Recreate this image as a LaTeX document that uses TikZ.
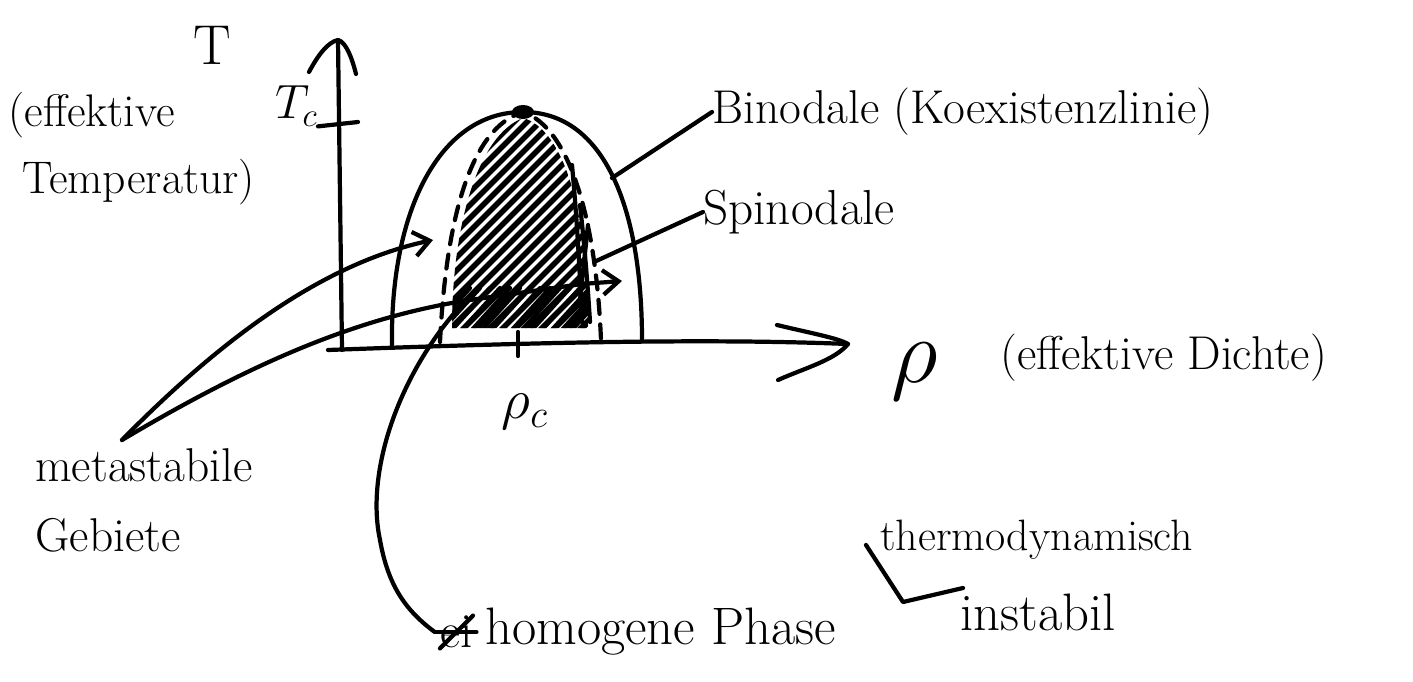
\documentclass[tikz,border=0pt]{standalone}
\usetikzlibrary{arrows.meta}
\begin{document}
\begin{tikzpicture}[x=0.02cm,y=-0.02cm,
  pen/.style={line width=2.4pt,line cap=round,line join=round},
  spin/.style={pen,dash pattern=on 8pt off 6pt},
  hatch/.style={line width=3.2pt,line cap=round},
  lbl/.style={inner sep=0pt,font=\fontsize{24}{28}\selectfont},
  arr/.style={pen,-{Straight Barb[length=9pt,width=14pt,line width=2.4pt]}}]
\useasboundingbox (0,0) rectangle (1413,682);

% axes
\coordinate (o) at (328,350);
\coordinate (ytop) at (338,40);
\coordinate (xend) at (848,344);
\draw[pen] (o) .. controls (520,343) and (700,338) .. (xend);
\draw[pen] (342,350) -- (ytop);
\draw[pen] (309,72) .. controls (318,55) and (328,42) .. (ytop) .. controls (346,42) and (352,58) .. (356,74);
\draw[pen] (777,325) .. controls (810,333) and (838,338) .. (xend) .. controls (835,360) and (805,368) .. (778,380);

% Tc tick
\node[lbl,anchor=east] (tc) at (318,106) {\scalebox{1.1}{$T_c$}};
\draw[pen] (tc.south east) -- (358,122);
% rho_c tick
\draw[pen] (518,332) -- (518,356);

% binodal
\coordinate (peak) at (523,112);
\draw[pen] (392,345) .. controls (390,210) and (440,112) .. (peak) .. controls (605,112) and (642,210) .. (642,340);
% spinodal dashed
\draw[spin] (440,342) .. controls (446,220) and (470,128) .. (peak) .. controls (570,128) and (596,220) .. (601,340);

% hatching
\begin{scope}
\clip (452,328) .. controls (452,225) and (478,135) .. (523,118) .. controls (560,128) and (588,200) .. (588,328) -- cycle;
\foreach \i in {-20,...,28}{
  \draw[hatch] ({330+\i*13},345) -- ({330+\i*13+240},105);
}
\foreach \i in {0,...,16}{
  \draw[line width=2.4pt,line cap=round] ({430+\i*10},332) -- ({430+\i*10+40},288);
}
\end{scope}
\draw[pen] (572,165) .. controls (578,230) and (580,280) .. (582,322);
\draw[pen] (580,205) .. controls (585,250) and (588,290) .. (590,322);
\draw[pen] (588,225) -- (580,300);
\fill (peak) ellipse [x radius=11, y radius=7];

% labels
\node[lbl,font=\fontsize{32}{36}\selectfont] (T) at (212,45) {T};
\node[lbl,align=left,anchor=north west,font=\fontsize{26}{38}\selectfont] (efftemp) at (8,92) {(effektive\\ \ Temperatur)};
\node[lbl,anchor=west,font=\fontsize{27}{31}\selectfont] (binlbl) at (712,112) {Binodale (Koexistenzlinie)};
\node[lbl,anchor=west,font=\fontsize{28}{32}\selectfont] (spinlbl) at (703,212) {Spinodale};
\node[lbl] (rho) at (915,372) {\scalebox{2.1}{$\rho$}};
\node[lbl,anchor=west,font=\fontsize{27}{31}\selectfont] (effd) at (1000,358) {(effektive Dichte)};
\node[lbl] (rhoc) at (525,412) {\scalebox{1.3}{$\rho_c$}};
\node[lbl,align=left,anchor=north west,font=\fontsize{27}{40}\selectfont] (meta) at (35,448) {metastabile\\Gebiete};
\node[lbl,anchor=west,font=\fontsize{28}{32}\selectfont] (ei) at (440,632) {ei};
\draw[pen] (ei.south west) -- (ei.north east);
\draw[pen] ([xshift=-2pt]ei.west) -- ([xshift=2pt]ei.east);
\node[lbl,anchor=west,font=\fontsize{30}{34}\selectfont] (hom) at (485,632) {homogene Phase};
\node[lbl,anchor=west,font=\fontsize{25}{29}\selectfont] (thermo) at (880,540) {thermodynamisch};
\node[lbl,anchor=west,font=\fontsize{30}{34}\selectfont] (inst) at (960,612) {instabil};

% pointers
\coordinate (binpt) at (612,178);
\draw[pen] (binpt) -- (binlbl.west);
\coordinate (spinpt) at (594,262);
\draw[pen] (spinpt) -- (spinlbl.west);
\coordinate (ms) at (122,440);
\draw[arr] (ms) .. controls (230,330) and (330,262) .. (433,240);
\draw[pen] (ms) .. controls (240,370) and (350,318) .. (470,300) -- (582,284);
\draw[arr] (582,284) -- (622,281);
\coordinate (hompt) at (466,300);
\draw[pen] (hompt) .. controls (400,370) and (365,470) .. (380,540) .. controls (388,585) and (405,610) .. ([xshift=-3pt]ei.west);
\draw[pen] (866,545) -- (903,602) -- (963,588);
\end{tikzpicture}
\end{document}
